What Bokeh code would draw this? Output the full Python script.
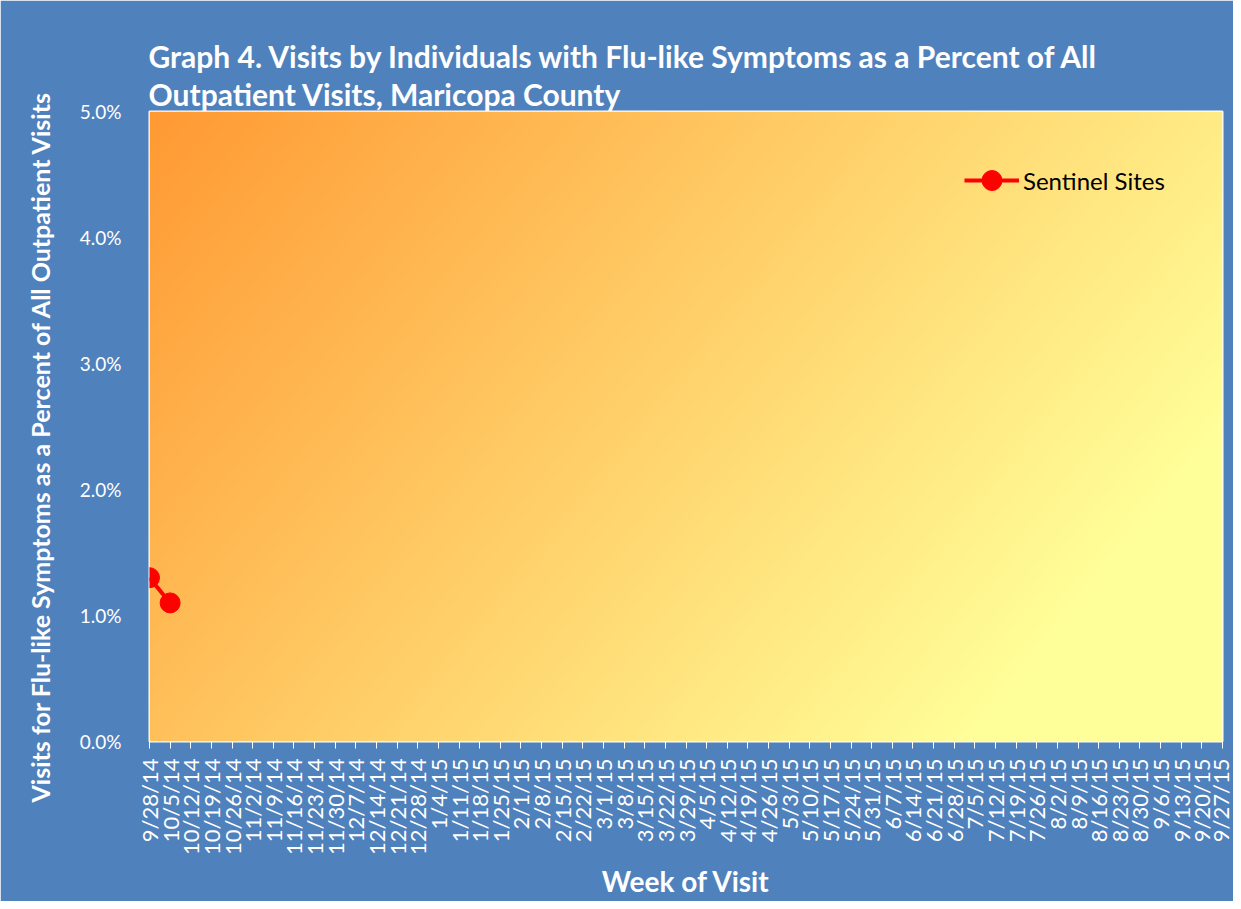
import numpy as np
from bokeh.plotting import figure
from bokeh.models import Range1d, FixedTicker, NumeralTickFormatter, Legend, Title
from bokeh.embed import file_html
from bokeh.resources import INLINE

# ---- data ----
weeks = ["9/28/14", "10/5/14", "10/12/14", "10/19/14", "10/26/14", "11/2/14", "11/9/14",
         "11/16/14", "11/23/14", "11/30/14", "12/7/14", "12/14/14", "12/21/14", "12/28/14",
         "1/4/15", "1/11/15", "1/18/15", "1/25/15", "2/1/15", "2/8/15", "2/15/15", "2/22/15",
         "3/1/15", "3/8/15", "3/15/15", "3/22/15", "3/29/15", "4/5/15", "4/12/15", "4/19/15",
         "4/26/15", "5/3/15", "5/10/15", "5/17/15", "5/24/15", "5/31/15", "6/7/15", "6/14/15",
         "6/21/15", "6/28/15", "7/5/15", "7/12/15", "7/19/15", "7/26/15", "8/2/15", "8/9/15",
         "8/16/15", "8/23/15", "8/30/15", "9/6/15", "9/13/15", "9/20/15", "9/27/15"]
sentinel_weeks = ["9/28/14", "10/5/14"]
sentinel_values = [0.013, 0.011]
y_ticks = [0.0, 0.01, 0.02, 0.03, 0.04, 0.05]

title_line1 = "Graph 4. Visits by Individuals with Flu-like Symptoms as a Percent of All"
title_line2 = "Outpatient Visits, Maricopa County"
y_title = "Visits for Flu-like Symptoms as a Percent of All Outpatient Visits"
x_title = "Week of Visit"
series_name = "Sentinel Sites"

# ---- styling ----
BLUE = "#4F81BD"
FONT = "Lato"
x_start, x_end = 0, len(weeks) - 1
y_min, y_max = y_ticks[0], y_ticks[-1]

p = figure(width=1233, height=901, output_backend="svg", toolbar_location=None,
           x_range=Range1d(x_start, x_end), y_range=Range1d(y_min, y_max),
           min_border_left=147, min_border_right=11, min_border_top=111,
           min_border_bottom=160)
p.background_fill_color = BLUE
p.border_fill_color = BLUE
p.outline_line_color = "white"
p.outline_line_width = 2
p.xgrid.visible = False
p.ygrid.visible = False

# gradient background in the plot area
FW, FH = 1075, 630
W, H = 538, 315
jj, ii = np.meshgrid(np.arange(W), np.arange(H))
xpx = (jj + 0.5) * FW / W
ytop = (H - ii - 0.5) * FH / H
g = np.clip(153 + 0.076 * xpx + 0.062 * ytop, 153, 255)
t = (g - 153) / 102.0
img = np.zeros((H, W, 4), dtype=np.uint8)
img[..., 0] = 255
img[..., 1] = np.round(153 + t * 102).astype(np.uint8)
img[..., 2] = np.round(51 + t * 102).astype(np.uint8)
img[..., 3] = 255
p.image_rgba(image=[img.view(dtype=np.uint32).reshape((H, W))],
             x=x_start, y=y_min, dw=x_end - x_start, dh=y_max - y_min)

# series
xs = [weeks.index(w) for w in sentinel_weeks]
r_line = p.line(xs, sentinel_values, line_color="#FF0000", line_width=4)
r_pts = p.scatter(xs, sentinel_values, size=20, fill_color="#FF0000", line_color="#FF0000")

legend = Legend(items=[(series_name, [r_line, r_pts])], location=(815, 536),
                background_fill_alpha=0, border_line_alpha=0, padding=0, margin=0,
                glyph_width=55, glyph_height=50, label_height=50,
                label_text_font=FONT, label_text_font_size="24px",
                label_text_color="black", label_standoff=4)
p.add_layout(legend, "center")

# axes
xa = p.xaxis[0]
xa.ticker = FixedTicker(ticks=list(range(len(weeks))))
xa.major_label_overrides = {i: w for i, w in enumerate(weeks)}
xa.major_label_orientation = np.pi / 2
xa.major_label_text_font = FONT
xa.major_label_text_font_size = "22px"
xa.major_label_text_color = "white"
xa.major_tick_line_color = "white"
xa.major_tick_out = 7
xa.major_tick_in = 0
xa.minor_tick_line_color = None
xa.axis_line_color = None
xa.major_label_standoff = 10
xa.axis_label = x_title
xa.axis_label_text_font = FONT
xa.axis_label_text_font_size = "28px"
xa.axis_label_text_font_style = "bold"
xa.axis_label_text_color = "white"
xa.axis_label_standoff = 6

ya = p.yaxis[0]
ya.ticker = FixedTicker(ticks=y_ticks)
ya.formatter = NumeralTickFormatter(format="0.0%")
ya.major_label_text_font = FONT
ya.major_label_text_font_size = "19px"
ya.major_label_text_color = "white"
ya.major_tick_line_color = None
ya.minor_tick_line_color = None
ya.axis_line_color = None
ya.major_label_standoff = 22

# titles
p.add_layout(Title(text=title_line2, align="left", offset=-1, standoff=0,
                   text_font=FONT, text_font_size="30px", text_font_style="bold",
                   text_color="white"), "above")
p.add_layout(Title(text=title_line1, align="left", offset=-1, standoff=0,
                   text_font=FONT, text_font_size="30px", text_font_style="bold",
                   text_color="white"), "above")
p.add_layout(Title(text=y_title, align="left", offset=-61, standoff=44,
                   text_font=FONT, text_font_size="25px", text_font_style="bold",
                   text_color="white"), "left")

open("out.html", "w").write(file_html(p, INLINE))
